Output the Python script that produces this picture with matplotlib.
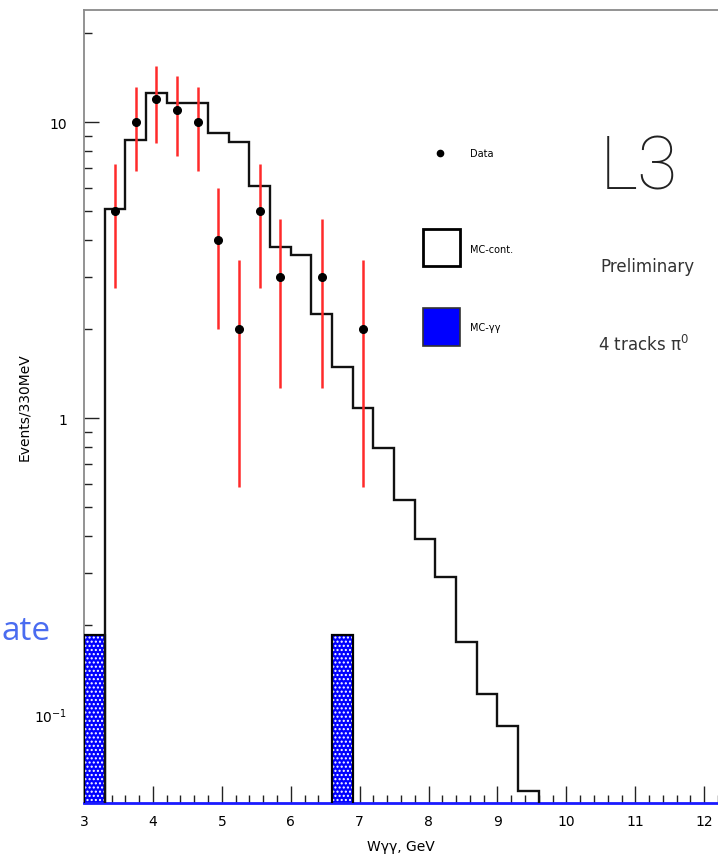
import numpy as np
import matplotlib
matplotlib.use("Agg")
import matplotlib.pyplot as plt
from matplotlib.ticker import FixedLocator, MultipleLocator, LogLocator, NullFormatter

plt.rcParams['font.family'] = ['Liberation Sans Narrow', 'DejaVu Sans']
plt.rcParams['mathtext.fontset'] = 'custom'
plt.rcParams['mathtext.rm'] = 'Liberation Sans Narrow'
plt.rcParams['mathtext.it'] = 'Liberation Sans Narrow'
plt.rcParams['hatch.linewidth'] = 1.0

# MC continuum, 0.3 GeV bins starting at 3.3 GeV
mc_edges = np.round(np.arange(3.3, 9.61, 0.3), 2)
mc_cont = [5.1, 8.7, 12.6, 11.6, 11.6, 9.2, 8.6, 6.1, 3.8, 3.55, 2.25,
           1.49, 1.08, 0.79, 0.53, 0.39, 0.29, 0.175, 0.117, 0.091, 0.055]

# MC gamma-gamma contribution (non-empty bins only)
gg_left = [3.0, 6.6]
gg_val = [0.175, 0.175]
bin_w = 0.3

# data points
data_x = [3.45, 3.75, 4.05, 4.35, 4.65, 4.95, 5.25, 5.55, 5.85, 6.45, 7.05]
data_y = [5, 10, 12, 11, 10, 4, 2, 5, 3, 3, 2]
data_err = np.sqrt(data_y)

fig = plt.figure(figsize=(7.18, 8.62), dpi=100)
ax = fig.add_axes([84 / 718, 58 / 862, 634 / 718, 793 / 862])
ax.set_yscale('log')
ax.set_xlim(3, 12.2)
ax.set_ylim(0.05, 24)

# MC gamma-gamma: hatched blue bars with black outline
ax.bar(gg_left, gg_val, width=bin_w, align='edge', bottom=0.01,
       facecolor='#0000ff', edgecolor='white', hatch='....', linewidth=0, zorder=2)
ax.bar(gg_left, gg_val, width=bin_w, align='edge', bottom=0.01,
       fill=False, edgecolor='black', linewidth=1.6, zorder=3)

# MC continuum histogram
ax.stairs(mc_cont, mc_edges, baseline=1e-3, color='#111111', linewidth=1.7, zorder=4)

# data with error bars
ax.errorbar(data_x, data_y, yerr=data_err, fmt='o', color='black', markersize=5.5,
            ecolor='#ff2a2a', elinewidth=1.8, capsize=0, zorder=5)

# axes styling
for side in ['left', 'top']:
    ax.spines[side].set_color('#8a8a8a')
    ax.spines[side].set_linewidth(1.3)
ax.spines['right'].set_visible(False)
ax.spines['bottom'].set_color('#1a1aff')
ax.spines['bottom'].set_linewidth(2)

ax.xaxis.set_major_locator(MultipleLocator(1))
ax.xaxis.set_minor_locator(MultipleLocator(0.2))
ax.yaxis.set_major_locator(FixedLocator([0.1, 1, 10]))
ax.yaxis.set_minor_locator(LogLocator(base=10, subs=np.arange(2, 10)))
ax.yaxis.set_minor_formatter(NullFormatter())
ax.set_yticklabels(['$10^{-1}$', '1', '10'])
ax.set_xticks(range(3, 13))
ax.set_xticklabels([str(v) for v in range(3, 13)])

ax.tick_params(axis='both', which='both', direction='in', color='#222222', width=1,
               top=False, right=False, labelsize=10)
ax.tick_params(axis='x', which='major', length=12, pad=8)
ax.tick_params(axis='x', which='minor', length=6)
ax.tick_params(axis='y', which='major', length=11, pad=12)
ax.tick_params(axis='y', which='minor', length=6)

ax.set_ylabel('Events/330MeV', fontsize=10)
ax.yaxis.set_label_coords(-0.084, 0.5)
ax.set_xlabel('Wγγ, GeV', fontsize=10)
ax.xaxis.set_label_coords(0.5, -0.045)

# legend drawn by hand
tr = ax.transAxes
ax.plot([0.5615], [0.8197], 'o', color='black', markersize=4.5, transform=tr, clip_on=False)
ax.text(0.609, 0.8197, 'Data', transform=tr, fontsize=7, va='center')
ax.add_patch(plt.Rectangle((0.5347, 0.677), 0.0584, 0.0468, transform=tr,
                           facecolor='white', edgecolor='black', linewidth=2))
ax.text(0.609, 0.6986, 'MC-cont.', transform=tr, fontsize=7, va='center')
ax.add_patch(plt.Rectangle((0.5347, 0.5763), 0.0584, 0.0479, transform=tr,
                           facecolor='#0000ff', edgecolor='#333333', linewidth=1.2))
ax.text(0.609, 0.600, 'MC-γγ', transform=tr, fontsize=7, va='center')

ax.text(0.813, 0.8008, 'L3', transform=tr, fontsize=53, va='center',
        family=['Roboto', 'DejaVu Sans'], fontweight=100, color='#222222')
ax.text(0.814, 0.677, 'Preliminary', transform=tr, fontsize=12, va='center', color='#333333')
ax.text(0.811, 0.579, '4 tracks π$^0$', transform=tr, fontsize=12, va='center', color='#333333')

# slide title fragment in the left margin
fig.text(0.002, 0.258, 'ate', ha='left', va='baseline', fontsize=24,
         color='#4a6cf0', family=['Open Sans', 'DejaVu Sans'])

fig.savefig('out.png', dpi=100)
